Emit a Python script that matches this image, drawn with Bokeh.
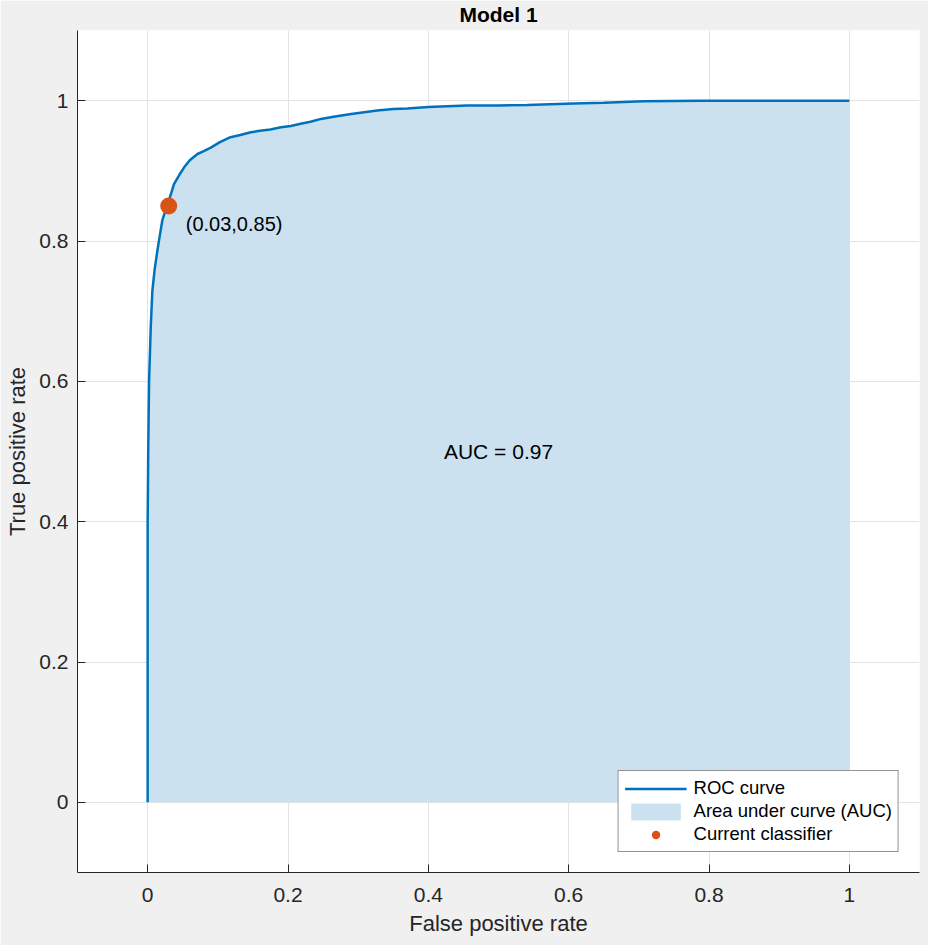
from bokeh.plotting import figure
from bokeh.models import Range1d, FixedTicker, Label, Legend, LegendItem
from bokeh.embed import file_html
from bokeh.resources import INLINE

# ROC curve points (false positive rate, true positive rate)
fpr = [0.0, 0.0, 0.0008, 0.002, 0.0045, 0.0067, 0.010, 0.0138, 0.018, 0.021,
       0.026, 0.031, 0.0375, 0.045, 0.052, 0.060, 0.071, 0.080, 0.090, 0.103,
       0.118, 0.132, 0.147, 0.160, 0.175, 0.190, 0.204, 0.218, 0.232, 0.247,
       0.265, 0.290, 0.327, 0.350, 0.370, 0.400, 0.455, 0.500, 0.541, 0.607,
       0.650, 0.707, 0.788, 0.900, 1.0]
tpr = [0.0, 0.40, 0.50, 0.60, 0.68, 0.729, 0.760, 0.786, 0.812, 0.830,
       0.845, 0.860, 0.881, 0.894, 0.905, 0.915, 0.924, 0.928, 0.933, 0.941,
       0.948, 0.951, 0.955, 0.957, 0.959, 0.962, 0.964, 0.967, 0.970, 0.974,
       0.977, 0.981, 0.986, 0.988, 0.989, 0.991, 0.993, 0.993, 0.994, 0.996,
       0.997, 0.999, 1.0, 1.0, 1.0]

# operating point of the current classifier
op_fpr = [0.03]
op_tpr = [0.85]

auc_value = 0.97
tick_values = [0, 0.2, 0.4, 0.6, 0.8, 1]
tick_labels = ["0", "0.2", "0.4", "0.6", "0.8", "1"]

FONT = "Liberation Sans"
TEXT = "#262626"
BLUE = "#0072BD"
AREA = "#cbe1ef"
ORANGE = "#D95319"

p = figure(width=928, height=945, x_range=Range1d(-0.1, 1.1), y_range=Range1d(-0.1, 1.1),
           output_backend="svg", toolbar_location=None,
           min_border_left=77, min_border_right=9, min_border_top=30, min_border_bottom=73)
p.border_fill_color = "#f0f0f0"
p.background_fill_color = "white"
p.outline_line_color = None

p.title.text = "Model 1"
p.title.align = "center"
p.title.vertical_align = "top"
p.title.text_font = FONT
p.title.text_font_size = "21px"
p.title.text_font_style = "bold"
p.title.text_color = "black"
p.title.standoff = 5
p.title.offset = 0

overrides = {t: s for t, s in zip(tick_values, tick_labels)}
for ax in (p.xaxis[0], p.yaxis[0]):
    ax.ticker = FixedTicker(ticks=tick_values)
    ax.major_label_overrides = overrides
    ax.major_tick_in = 8
    ax.major_tick_out = 0
    ax.minor_tick_line_color = None
    ax.axis_line_color = TEXT
    ax.major_tick_line_color = TEXT
    ax.major_label_text_font = FONT
    ax.major_label_text_font_size = "21px"
    ax.major_label_text_color = TEXT
    ax.axis_label_text_font = FONT
    ax.axis_label_text_font_size = "22px"
    ax.axis_label_text_font_style = "normal"
    ax.axis_label_text_color = TEXT

p.xaxis.axis_label = "False positive rate"
p.yaxis.axis_label = "True positive rate"
p.xaxis.major_label_standoff = 15
p.xaxis.axis_label_standoff = 6
p.yaxis.major_label_standoff = 9
p.yaxis.axis_label_standoff = 6

for g in (p.xgrid[0], p.ygrid[0]):
    g.ticker = FixedTicker(ticks=tick_values)
    g.grid_line_color = "#e3e3e3"
    g.grid_line_width = 1

area = p.varea(x=fpr, y1=[0] * len(fpr), y2=tpr, fill_color=AREA, fill_alpha=1.0)
curve = p.line(fpr, tpr, line_color=BLUE, line_width=2.5)
point = p.scatter(op_fpr, op_tpr, size=17, fill_color=ORANGE, line_color=None)

p.add_layout(Label(x=op_fpr[0], y=op_tpr[0], x_offset=17, y_offset=-18,
                   text=f"({op_fpr[0]:.2f},{op_tpr[0]:.2f})",
                   text_font=FONT, text_font_size="20px", text_color="black",
                   text_align="left", text_baseline="middle"))
p.add_layout(Label(x=0.5, y=0.5, text=f"AUC = {auc_value:.2f}",
                   text_font=FONT, text_font_size="21px", text_color="black",
                   text_align="center", text_baseline="middle"))

legend = Legend(items=[LegendItem(label="ROC curve", renderers=[curve]),
                       LegendItem(label="Area under curve (AUC)", renderers=[area]),
                       LegendItem(label="Current classifier", renderers=[point])],
                location="bottom_right", margin=20, padding=6, spacing=1,
                glyph_width=62, glyph_height=21, label_height=21, label_standoff=7,
                label_text_font=FONT, label_text_font_size="18.5px", label_text_color="black",
                border_line_color=TEXT, border_line_width=1,
                background_fill_color="white", background_fill_alpha=1.0)
p.add_layout(legend)

open("out.html", "w").write(file_html(p, INLINE))
